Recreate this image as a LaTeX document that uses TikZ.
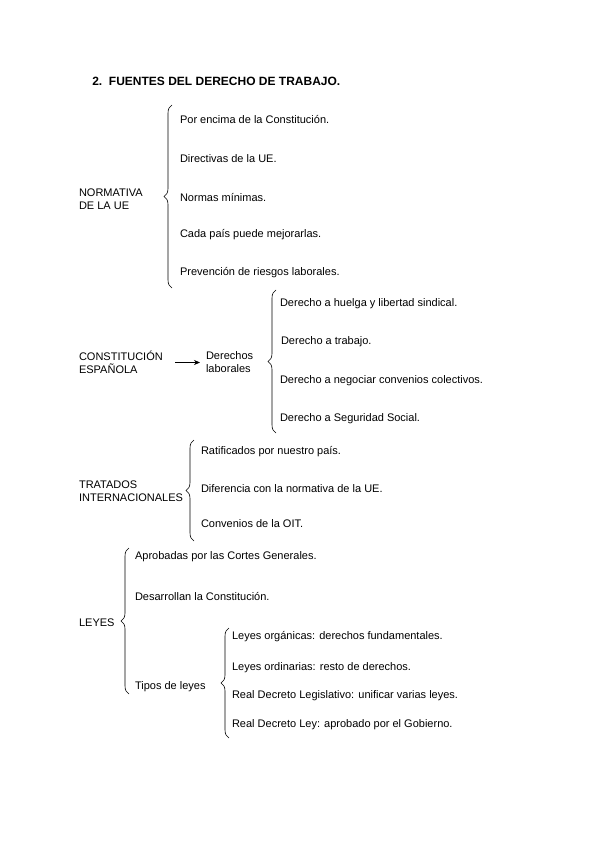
\documentclass[tikz,border=0pt]{standalone}
\usepackage{fontspec}
\setmainfont{Liberation Sans}
\usetikzlibrary{decorations.pathreplacing,arrows.meta}

\tikzset{every picture/.style={line width=0.6pt}}
\tikzset{
  txt/.style={anchor=west,inner sep=0.75pt,align=left,yshift=-1.5pt,font=\fontsize{11}{13}\selectfont},
  llave/.style={decorate,decoration={brace,amplitude=8pt}},
}

\begin{document}
\begin{tikzpicture}[x=1pt,y=1pt,yscale=-1]
%set diagram size to the page, 599 x 848
\useasboundingbox (0,0) rectangle (599,848);

% Title
\node (titulo) [anchor=west,inner sep=0pt,font=\bfseries\fontsize{12}{14}\selectfont] at (92,81) {2.\ \ FUENTES DEL DERECHO DE TRABAJO.};

%Normativa de la UE
\node (ue) [txt] at (78,198) {NORMATIVA\\DE LA UE};
\coordinate (ueA) at (172,288);
\coordinate (ueB) at (172,105);
\draw [llave] (ueA) -- (ueB);
% Text Node
\node (ue1) [txt] at (179,118) {Por encima de la Constitución.};
\node (ue2) [txt] at (179,157) {Directivas de la UE.};
\node (ue3) [txt] at (179,196) {Normas mínimas.};
\node (ue4) [txt] at (179,233) {Cada país puede mejorarlas.};
\node (ue5) [txt] at (179,271) {Prevención de riesgos laborales.};

%Constitucion espanola
\node (ce) [txt] at (78,361) {CONSTITUCIÓN\\ESPAÑOLA};
\node (dl) [txt] at (205,361) {Derechos\\laborales};
\coordinate (flecha) at (175,0);
\draw [-{Stealth[length=6pt,width=5pt]},shorten >=5pt] (flecha |- dl.west) -- (dl.west);
\coordinate (dlA) at (276,433);
\coordinate (dlB) at (276,290);
\draw [llave] (dlA) -- (dlB);
% Text Node
\node (dl1) [txt] at (279,302) {Derecho a huelga y libertad sindical.};
\node (dl2) [txt] at (280,340) {Derecho a trabajo.};
\node (dl3) [txt] at (279,379) {Derecho a negociar convenios colectivos.};
\node (dl4) [txt] at (279,417) {Derecho a Seguridad Social.};

%Tratados internacionales
\node (ti) [txt] at (78,490) {TRATADOS\\INTERNACIONALES};
\coordinate (tiA) at (194,541);
\coordinate (tiB) at (194,440);
\draw [llave] (tiA) -- (tiB);
% Text Node
\node (ti1) [txt] at (200,450) {Ratificados por nuestro país.};
\node (ti2) [txt] at (200,487) {Diferencia con la normativa de la UE.};
\node (ti3) [txt] at (200,522) {Convenios de la OIT.};

%Leyes
\node (ly) [txt] at (78,621) {LEYES};
\coordinate (lyA) at (129,694);
\coordinate (lyB) at (129,548);
\draw [llave] (lyA) -- (lyB);
% Text Node
\node (ly1) [txt] at (134,555) {Aprobadas por las Cortes Generales.};
\node (ly2) [txt] at (134,595) {Desarrollan la Constitución.};
\node (ly3) [txt] at (134,685) {Tipos de leyes};
\coordinate (tlA) at (229,738);
\coordinate (tlB) at (229,628);
\draw [llave] (tlA) -- (tlB);
% Text Node
\node (tl1) [txt] at (231,635) {Leyes orgánicas: derechos fundamentales.};
\node (tl2) [txt] at (231,666) {Leyes ordinarias: resto de derechos.};
\node (tl3) [txt] at (231,694) {Real Decreto Legislativo: unificar varias leyes.};
\node (tl4) [txt] at (231,723) {Real Decreto Ley: aprobado por el Gobierno.};

\end{tikzpicture}
\end{document}
